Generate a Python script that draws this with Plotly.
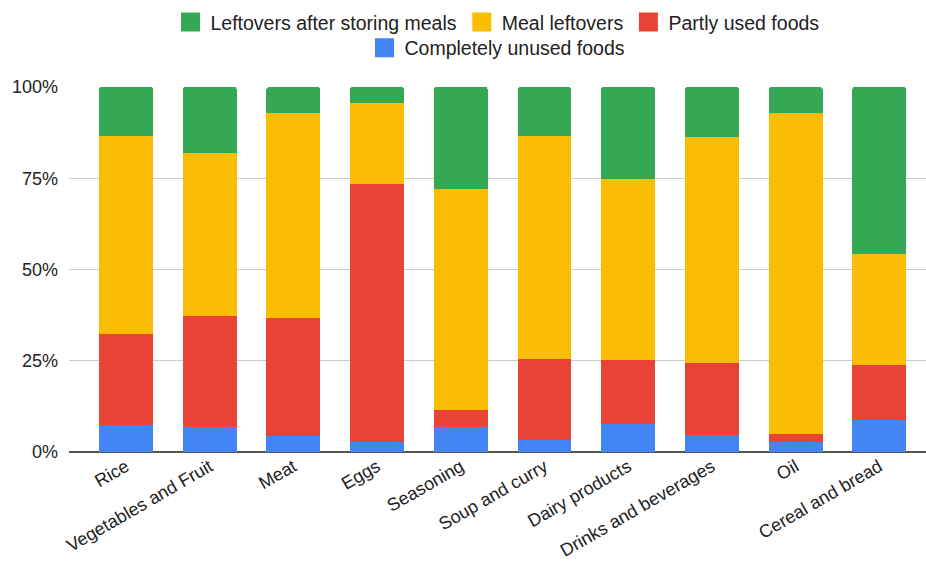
import plotly.graph_objects as go

categories = ["Rice", "Vegetables and Fruit", "Meat", "Eggs", "Seasoning",
              "Soup and curry", "Dairy products", "Drinks and beverages", "Oil",
              "Cereal and bread"]
completely_unused = [7.3, 6.9, 4.3, 2.8, 6.9, 3.3, 7.8, 4.6, 2.8, 8.7]
partly_used = [25.0, 30.3, 32.5, 70.7, 4.5, 22.3, 17.4, 19.7, 2.2, 15.1]
meal_leftovers = [54.4, 44.7, 56.2, 22.2, 60.7, 61.1, 49.6, 62.1, 88.0, 30.5]
after_storing = [13.3, 18.1, 7.0, 4.3, 27.9, 13.3, 25.2, 13.6, 7.0, 45.7]
y_tick_vals = [0, 25, 50, 75, 100]
y_tick_text = ["0%", "25%", "50%", "75%", "100%"]

series = [
    ("Completely unused foods", completely_unused, "#4285F4", "legend2"),
    ("Partly used foods", partly_used, "#EA4335", "legend"),
    ("Meal leftovers", meal_leftovers, "#FBBC04", "legend"),
    ("Leftovers after storing meals", after_storing, "#34A853", "legend"),
]

fig = go.Figure()
for name, vals, color, lg in series:
    fig.add_trace(go.Bar(x=categories, y=vals, name=name, marker_color=color,
                         marker_line_width=0, width=0.645, showlegend=False))
# legend entries with larger square swatches
for name, vals, color, lg in series:
    fig.add_trace(go.Scatter(x=[None], y=[None], mode="markers", name=name,
                             marker=dict(symbol="square", size=16, color=color,
                                         line=dict(color=color, width=3)),
                             legend=lg))

font = "Liberation Sans, Arial, sans-serif"
fig.update_layout(
    width=926, height=569,
    margin=dict(l=69, r=0, t=87, b=117),
    barmode="stack",
    barcornerradius=3,
    plot_bgcolor="white", paper_bgcolor="white",
    font=dict(family=font, size=18, color="#222222"),
    legend=dict(orientation="h", x=0.5, xanchor="center", y=0.995, yref="container",
                yanchor="top", traceorder="reversed", font=dict(size=19.5),
                itemsizing="trace", bgcolor="rgba(0,0,0,0)"),
    legend2=dict(orientation="h", x=0.5, xanchor="center", y=0.95, yref="container",
                 yanchor="top", font=dict(size=19.5), itemsizing="trace",
                 bgcolor="rgba(0,0,0,0)"),
    xaxis=dict(range=[-0.681, 9.558], tickangle=-30, showgrid=False,
               showline=False, ticks="", tickfont=dict(size=18), automargin=False),
    yaxis=dict(range=[0, 100], tickmode="array", tickvals=y_tick_vals,
               ticktext=y_tick_text,
               gridcolor="#cccccc", gridwidth=1, zeroline=True,
               zerolinecolor="#555555", zerolinewidth=2,
               tickfont=dict(size=18), ticks="", ticklabelstandoff=10,
               automargin=False),
)
fig.write_html("out.html")
